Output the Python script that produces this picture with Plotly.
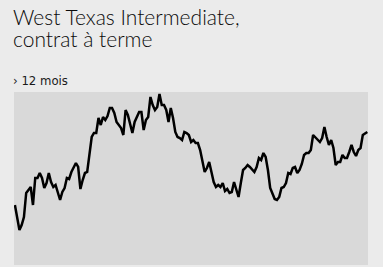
import plotly.graph_objects as go

# WTI futures, approx. prices over 12 months
prices = [
    52.0, 49.4, 47.0, 48.0, 49.6, 54.4, 55.0, 55.6, 52.0, 57.4,
    57.4, 58.4, 57.4, 55.4, 56.4, 58.4, 56.6, 55.6, 56.0, 54.6,
    53.0, 54.6, 55.4, 57.4, 57.2, 58.6, 59.6, 60.4, 59.6, 55.2,
    57.0, 58.4, 58.6, 61.6, 65.6, 66.4, 66.4, 69.4, 68.0, 69.6,
    69.0, 69.8, 71.4, 71.4, 70.4, 68.6, 68.0, 67.4, 66.0, 71.0,
    70.0, 68.4, 66.4, 68.6, 69.6, 70.6, 70.6, 67.0, 69.0, 69.6,
    73.6, 72.0, 71.0, 71.6, 74.2, 72.0, 72.0, 71.0, 68.6, 71.4,
    69.4, 66.6, 65.6, 65.4, 65.0, 66.6, 66.4, 66.0, 64.6, 65.0,
    64.4, 64.4, 63.0, 60.4, 58.6, 59.4, 60.6, 58.6, 56.6, 55.6,
    56.0, 55.6, 56.4, 54.8, 55.2, 54.4, 54.6, 56.6, 55.0, 53.6,
    56.4, 59.0, 59.4, 60.0, 59.6, 59.0, 58.6, 59.6, 61.4, 61.0,
    62.4, 61.6, 59.0, 55.4, 54.4, 53.2, 53.0, 53.6, 55.4, 55.6,
    56.4, 58.4, 58.2, 59.4, 59.6, 58.4, 59.0, 60.2, 62.0, 62.4,
    62.4, 63.0, 66.0, 65.6, 65.0, 64.6, 65.4, 67.6, 65.6, 64.0,
    65.0, 63.4, 60.0, 60.6, 60.6, 62.0, 61.4, 61.4, 62.6, 64.0,
    62.6, 61.8, 63.0, 63.4, 66.0, 66.4, 66.6,
]
days = list(range(len(prices)))

title_line1 = "West Texas Intermediate,"
title_line2 = "contrat à terme"
subtitle_text = "› 12 mois"

fig = go.Figure()
fig.add_trace(go.Scatter(
    x=days, y=prices, mode="lines",
    line=dict(color="#000000", width=2.5),
    hoverinfo="skip",
))

title_font = dict(family="Lato", size=21, color="#0a0a0a", weight=300)
fig.update_layout(
    width=383, height=267,
    margin=dict(l=14, r=15, t=92, b=2),
    paper_bgcolor="#ebebeb",
    plot_bgcolor="#d9d9d9",
    showlegend=False,
    hovermode=False,
    xaxis=dict(visible=False, range=[-0.4, len(prices) - 1 + 0.3]),
    yaxis=dict(visible=False, range=[40, 74.6]),
    annotations=[
        dict(text=title_line1, xref="paper", yref="paper", x=0, y=1.521,
             xanchor="left", yanchor="top", align="left", showarrow=False,
             xshift=-3, font=title_font),
        dict(text=title_line2, xref="paper", yref="paper", x=0, y=1.394,
             xanchor="left", yanchor="top", align="left", showarrow=False,
             xshift=-3, font=title_font),
        dict(text=subtitle_text, xref="paper", yref="paper", x=0, y=1.12,
             xanchor="left", yanchor="top", align="left", showarrow=False,
             xshift=-3,
             font=dict(family="DejaVu Sans Condensed, Roboto, sans-serif",
                       size=13, color="#1a1a1a")),
    ],
)

fig.write_html("out.html", config={"displayModeBar": False},
               post_script="document.body.style.margin='0';")
